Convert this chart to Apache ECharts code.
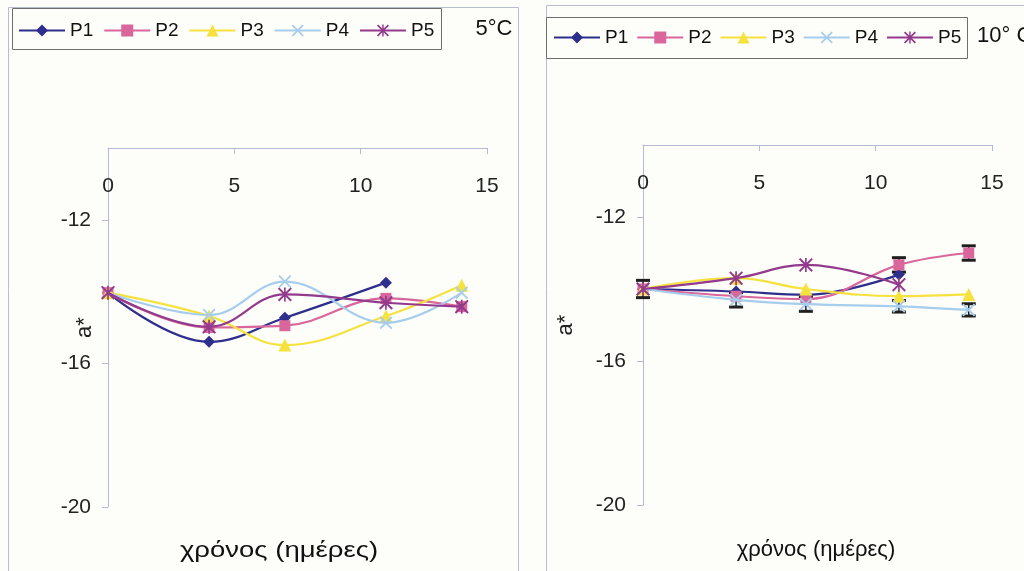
<!DOCTYPE html>
<html>
<head>
<meta charset="utf-8">
<script src="https://cdn.jsdelivr.net/npm/echarts@6/dist/echarts.min.js"></script>
<style>
  html, body { margin: 0; padding: 0; background: #fdfdf9; }
  #chart { width: 1024px; height: 571px; }
</style>
</head>
<body>
<div id="chart"></div>
<script>
// Sampling days
const days = [0, 4, 7, 11, 14];
const seriesNames = ['P1', 'P2', 'P3', 'P4', 'P5'];

// a* values at 5°C (P1 has no day-14 reading)
const a5_P1 = [-14.03, -15.40, -14.73, -13.75, null];
const a5_P2 = [-14.03, -15.00, -14.95, -14.19, -14.42];
const a5_P3 = [-14.03, -14.68, -15.49, -14.68, -13.82];
const a5_P4 = [-14.03, -14.65, -13.72, -14.87, -14.03];
const a5_P5 = [-14.03, -14.98, -14.08, -14.31, -14.42];

// a* values at 10°C (P1 and P5 end at day 11)
const a10_P1 = [-14.00, -14.07, -14.16, -13.60, null];
const a10_P2 = [-14.00, -14.20, -14.28, -13.33, -13.00];
const a10_P3 = [-14.00, -13.70, -14.00, -14.20, -14.15];
const a10_P4 = [-14.00, -14.30, -14.42, -14.48, -14.58];
const a10_P5 = [-14.00, -13.70, -13.33, -13.88, null];

// standard deviations drawn as error bars at 10°C
const err10_P2 = [0, 0, 0, 0.20, 0.20];
const err10_P4 = [0.24, 0.20, 0.20, 0.16, 0.17];

const xTicks = { min: 0, max: 15, interval: 5 };
const yTicks = { min: -20, max: -10, interval: 4 };

const colors = ['#2e2f8c', '#d9679b', '#f5e23f', '#a6cdec', '#933a8c'];
const symX = 'path://M0,1L1,0L5,4L9,0L10,1L6,5L10,9L9,10L5,6L1,10L0,9L4,5Z';
const symStar = 'path://M0,1L1,0L5,4L9,0L10,1L6,5L10,9L9,10L5,6L1,10L0,9L4,5Z M4.4,0L5.6,0L5.6,10L4.4,10Z';
const symbols = ['diamond', 'rect', 'triangle', symX, symStar];
const symSizes = [12, 11, 13, 13, 14];

const axisColor = '#b3bbd0';
const font = 'Liberation Sans, Arial, sans-serif';

function pairs(vals) {
  return days.map((d, i) => [d, vals[i]]).filter(p => p[1] !== null);
}

function lineSeries(name, idx, vals, gi) {
  return {
    name: name,
    type: 'line',
    xAxisIndex: gi, yAxisIndex: gi,
    data: pairs(vals),
    smooth: 0.4,
    symbol: symbols[idx],
    symbolSize: symSizes[idx],
    showSymbol: true,
    lineStyle: { color: colors[idx], width: 2.2 },
    itemStyle: { color: colors[idx] },
    emphasis: { disabled: true },
    z: 3 + idx
  };
}

function errorSeries(vals, errs, gi) {
  const data = days.map((d, i) => [d, vals[i], errs[i]]).filter(p => p[1] !== null && p[2] > 0);
  return {
    type: 'custom',
    xAxisIndex: gi, yAxisIndex: gi,
    data: data,
    z: 2,
    silent: true,
    renderItem: function (params, api) {
      const x = api.value(0), y = api.value(1), e = api.value(2);
      const top = api.coord([x, y + e]);
      const bot = api.coord([x, y - e]);
      const hw = 7;
      const st = { stroke: '#1f1f1f', lineWidth: 3 };
      return {
        type: 'group',
        children: [
          { type: 'line', shape: { x1: top[0], y1: top[1], x2: bot[0], y2: bot[1] }, style: { stroke: '#1f1f1f', lineWidth: 1.5 } },
          { type: 'line', shape: { x1: top[0] - hw, y1: top[1], x2: top[0] + hw, y2: top[1] }, style: st },
          { type: 'line', shape: { x1: bot[0] - hw, y1: bot[1], x2: bot[0] + hw, y2: bot[1] }, style: st }
        ]
      };
    }
  };
}

function xAxisCfg(gi, margin) {
  return {
    gridIndex: gi, type: 'value', position: 'top',
    min: xTicks.min, max: xTicks.max, interval: xTicks.interval,
    axisLine: { lineStyle: { color: axisColor, width: 1 } },
    axisTick: { inside: true, length: 6, lineStyle: { color: axisColor } },
    axisLabel: { inside: true, margin: margin, color: '#222', fontSize: 21, fontFamily: font },
    splitLine: { show: false }
  };
}

function yAxisCfg(gi, nameGap) {
  return {
    gridIndex: gi, type: 'value',
    min: yTicks.min, max: yTicks.max, interval: yTicks.interval,
    name: 'a*', nameLocation: 'middle', nameGap: nameGap, nameRotate: 90,
    nameMoveOverlap: false,
    nameTextStyle: { color: '#222', fontSize: 22, fontFamily: font },
    axisLine: { show: true, lineStyle: { color: axisColor, width: 1 } },
    axisTick: { show: true, length: 6, lineStyle: { color: axisColor } },
    axisLabel: { margin: 17, color: '#222', fontSize: 21, fontFamily: font, showMaxLabel: false },
    splitLine: { show: false }
  };
}

function legendCfg(left, top, gap) {
  return {
    left: left, top: top, padding: 0,
    orient: 'horizontal',
    itemWidth: 46, itemHeight: 15, itemGap: gap,
    selectedMode: false,
    data: seriesNames,
    textStyle: { color: '#111', fontSize: 19, fontFamily: font }
  };
}

const set5 = [a5_P1, a5_P2, a5_P3, a5_P4, a5_P5];
const set10 = [a10_P1, a10_P2, a10_P3, a10_P4, a10_P5];

const series = [];
seriesNames.forEach((n, i) => series.push(lineSeries(n, i, set5[i], 0)));
series.push(errorSeries(a10_P2, err10_P2, 1));
series.push(errorSeries(a10_P4, err10_P4, 1));
seriesNames.forEach((n, i) => series.push(lineSeries(n, i, set10[i], 1)));

const chart = echarts.init(document.getElementById('chart'));
chart.setOption({
  backgroundColor: '#fdfdf9',
  animation: false,
  grid: [
    { left: 108, right: 537, top: 148, bottom: 64 },
    { left: 643, right: 32, top: 145, bottom: 66 }
  ],
  xAxis: [xAxisCfg(0, 28), xAxisCfg(1, 28)],
  yAxis: [yAxisCfg(0, 12), yAxisCfg(1, 66)],
  legend: [legendCfg(18, 21, 10), legendCfg(553, 28, 8)],
  graphic: [
    // panel frames
    { type: 'rect', shape: { x: 8.5, y: 7.5, width: 510, height: 600 }, style: { fill: null, stroke: '#b9bdc9', lineWidth: 1 }, z: -1 },
    { type: 'rect', shape: { x: 546.5, y: 5.5, width: 500, height: 600 }, style: { fill: null, stroke: '#b9bdc9', lineWidth: 1 }, z: -1 },
    // legend boxes
    { type: 'rect', shape: { x: 12.5, y: 8.5, width: 429, height: 41 }, style: { fill: null, stroke: '#6e6e6e', lineWidth: 1 }, z: -1 },
    { type: 'rect', shape: { x: 546.5, y: 17.5, width: 421, height: 41 }, style: { fill: null, stroke: '#6e6e6e', lineWidth: 1 }, z: -1 },
    // temperature labels
    { type: 'text', x: 494, y: 29, style: { text: '5°C', fill: '#111', font: '22px ' + font, textAlign: 'center', textVerticalAlign: 'middle' } },
    { type: 'text', x: 977, y: 36, style: { text: '10° C', fill: '#111', font: '22px ' + font, textAlign: 'left', textVerticalAlign: 'middle' } },
    // x axis titles
    { type: 'text', x: 279, y: 551, scaleX: 1.25, style: { text: 'χρόνος (ημέρες)', fill: '#111', font: '22px ' + font, textAlign: 'center', textVerticalAlign: 'middle' } },
    { type: 'text', x: 816, y: 550, style: { text: 'χρόνος (ημέρες)', fill: '#111', font: '22px ' + font, textAlign: 'center', textVerticalAlign: 'middle' } }
  ],
  series: series
});
</script>
</body>
</html>
